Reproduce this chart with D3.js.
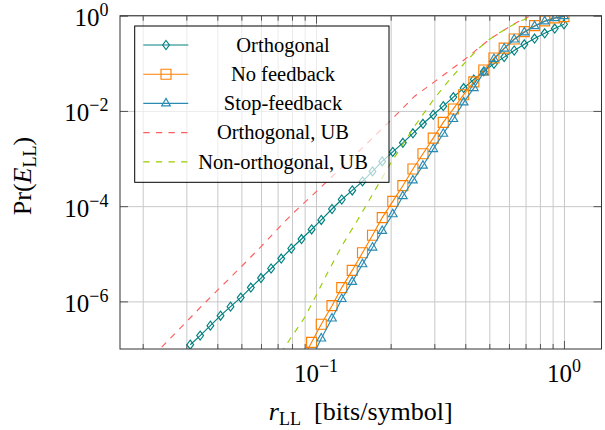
<!DOCTYPE html>
<html>
<head>
<meta charset="utf-8">
<script src="https://cdn.jsdelivr.net/npm/d3@7/dist/d3.min.js"></script>
<style>
body { margin: 0; background: #fff; }
text { font-family: "Liberation Serif", "Times New Roman", serif; fill: #000; }
</style>
</head>
<body>
<div id="chart"></div>
<script>
// rate grid of the simulated curves [bits/symbol]
var rates = [0.0311, 0.0341, 0.0375, 0.0412, 0.0452, 0.0497, 0.0546, 0.0600, 0.0659, 0.0724,
	0.0795, 0.0874, 0.0960, 0.105, 0.116, 0.127, 0.140, 0.154, 0.169, 0.185,
	0.204, 0.224, 0.246, 0.270, 0.297, 0.326, 0.358, 0.394, 0.433, 0.475,
	0.522, 0.574, 0.630, 0.692, 0.761, 0.836, 0.918, 1.0];

var orthogonal = [1.23e-7, 1.91e-7, 3.09e-7, 5.01e-7, 7.76e-7, 1.20e-6, 1.95e-6, 3.09e-6, 4.90e-6, 7.94e-6,
	1.29e-5, 2.04e-5, 3.24e-5, 5.13e-5, 8.71e-5, 1.38e-4, 2.14e-4, 3.31e-4, 5.37e-4, 8.71e-4,
	1.38e-3, 2.14e-3, 3.39e-3, 5.37e-3, 8.32e-3, 1.26e-2, 1.95e-2, 3.02e-2, 4.57e-2, 6.76e-2,
	9.77e-2, 0.135, 0.186, 0.251, 0.331, 0.427, 0.537, 0.661];

var noFeedback = [null, null, null, null, null, null, null, null, null, null,
	null, 5.62e-8, 1.38e-7, 3.31e-7, 8.13e-7, 1.95e-6, 4.47e-6, 1.05e-5, 2.45e-5, 5.75e-5,
	1.26e-4, 2.69e-4, 6.03e-4, 1.26e-3, 2.69e-3, 5.75e-3, 1.10e-2, 2.19e-2, 4.07e-2, 7.24e-2,
	0.129, 0.209, 0.324, 0.462, 0.617, 0.776, 0.902, 0.955];

var stopFeedback = [null, null, null, null, null, null, null, null, null, null,
	null, null, 6.31e-8, 1.66e-7, 4.37e-7, 1.12e-6, 2.57e-6, 6.03e-6, 1.35e-5, 3.02e-5,
	6.76e-5, 1.62e-4, 3.47e-4, 7.08e-4, 1.58e-3, 3.31e-3, 6.76e-3, 1.51e-2, 3.02e-2, 6.46e-2,
	0.123, 0.204, 0.316, 0.447, 0.603, 0.759, 0.891, 0.977];

// upper bounds, computed on their own rate grids
var orthUBRates = [0.022, 0.025, 0.03, 0.035, 0.04, 0.05, 0.06, 0.07, 0.08, 0.1, 0.12, 0.15,
	0.2, 0.25, 0.3, 0.35, 0.4, 0.45, 0.5, 0.55, 0.6, 0.65, 0.7, 0.72];
var orthUB = [7.08e-8, 1.41e-7, 3.72e-7, 8.51e-7, 1.70e-6, 5.37e-6, 1.41e-5, 3.31e-5, 6.76e-5, 2.00e-4, 4.90e-4, 1.48e-3,
	6.31e-3, 2.04e-2, 4.07e-2, 7.41e-2, 0.123, 0.204, 0.316, 0.437, 0.575, 0.741, 0.891, 0.955];

var nonOrthUBRates = [0.072, 0.075, 0.08, 0.09, 0.1, 0.11, 0.12, 0.13, 0.15, 0.17, 0.2,
	0.25, 0.3, 0.35, 0.4, 0.45, 0.5, 0.55, 0.6, 0.65, 0.7, 0.75];
var nonOrthUB = [8.13e-8, 1.12e-7, 1.86e-7, 4.57e-7, 1.32e-6, 3.55e-6, 8.32e-6, 1.78e-5, 6.03e-5, 1.86e-4, 7.94e-4,
	4.79e-3, 1.82e-2, 4.90e-2, 0.105, 0.200, 0.316, 0.437, 0.575, 0.724, 0.851, 0.977];

var legendLabels = ["Orthogonal", "No feedback", "Stop-feedback", "Orthogonal, UB", "Non-orthogonal, UB"];

var xMajor = [0.1, 1];
var xMinor = [0.02, 0.03, 0.04, 0.05, 0.06, 0.07, 0.08, 0.09, 0.2, 0.3, 0.4, 0.5, 0.6, 0.7, 0.8, 0.9];
var xTickExp = ["\u22121", "0"];
var yMajor = [1e-6, 1e-4, 1e-2, 1];
var yTickExp = ["\u22126", "\u22124", "\u22122", "0"];

// plot box
var W = 605, H = 430;
var boxL = 120, boxR = 601.5, boxT = 15.7, boxB = 349;

var svg = d3.select("#chart").append("svg")
	.attr("width", W)
	.attr("height", H);

var x = d3.scaleLog().domain([0.0162, 1.417]).range([boxL, boxR]);
var y = d3.scaleLog().domain([1e-7, 1]).range([boxB, boxT]);

function cleanAxis(g, color) {
	g.select(".domain").remove();
	g.selectAll("text").remove();
	g.selectAll("line").attr("stroke", color);
}

// grid
svg.append("g")
	.attr("transform", "translate(0," + boxB + ")")
	.call(d3.axisBottom(x).tickValues(xMinor.concat(xMajor)).tickSize(-(boxB - boxT)).tickFormat(""))
	.call(cleanAxis, "#c8c8c8");
svg.append("g")
	.attr("transform", "translate(" + boxL + ",0)")
	.call(d3.axisLeft(y).tickValues(yMajor).tickSize(-(boxR - boxL)).tickFormat(""))
	.call(cleanAxis, "#c8c8c8");

// ticks on all four sides, pointing inside
svg.append("g").attr("transform", "translate(0," + boxB + ")")
	.call(d3.axisBottom(x).tickValues(xMinor).tickSize(-5).tickFormat("")).call(cleanAxis, "#555");
svg.append("g").attr("transform", "translate(0," + boxB + ")")
	.call(d3.axisBottom(x).tickValues(xMajor).tickSize(-8).tickFormat("")).call(cleanAxis, "#555");
svg.append("g").attr("transform", "translate(0," + boxT + ")")
	.call(d3.axisTop(x).tickValues(xMinor).tickSize(-5).tickFormat("")).call(cleanAxis, "#555");
svg.append("g").attr("transform", "translate(0," + boxT + ")")
	.call(d3.axisTop(x).tickValues(xMajor).tickSize(-8).tickFormat("")).call(cleanAxis, "#555");
svg.append("g").attr("transform", "translate(" + boxL + ",0)")
	.call(d3.axisLeft(y).tickValues(yMajor).tickSize(-8).tickFormat("")).call(cleanAxis, "#555");
svg.append("g").attr("transform", "translate(" + boxR + ",0)")
	.call(d3.axisRight(y).tickValues(yMajor).tickSize(-8).tickFormat("")).call(cleanAxis, "#555");

// tick labels 10^k
var xl = svg.append("g").selectAll("text")
	.data(xMajor)
	.enter()
	.append("text")
	.attr("x", function(d) { return x(d); })
	.attr("y", 381.5)
	.attr("text-anchor", "middle")
	.style("font-size", "25px");
xl.append("tspan").text("10");
xl.append("tspan").attr("dy", -10).style("font-size", "18px").text(function(d, i) { return xTickExp[i]; });

var yl = svg.append("g").selectAll("text")
	.data(yMajor)
	.enter()
	.append("text")
	.attr("x", 108.5)
	.attr("y", function(d) { return y(d) + 10.5; })
	.attr("text-anchor", "end")
	.style("font-size", "25px");
yl.append("tspan").text("10");
yl.append("tspan").attr("dy", -10).style("font-size", "18px").text(function(d, i) { return yTickExp[i]; });

// axis labels
var xlab = svg.append("text")
	.attr("x", (boxL + boxR) / 2)
	.attr("y", 420)
	.attr("text-anchor", "middle")
	.style("font-size", "26px");
xlab.append("tspan").style("font-style", "italic").text("r");
xlab.append("tspan").attr("dy", 5).style("font-size", "18px").text("LL");
xlab.append("tspan").attr("dy", -5).text("\u2002[bits/symbol]");

var ylab = svg.append("text")
	.attr("transform", "translate(31," + 176 + ") rotate(-90)")
	.attr("text-anchor", "middle")
	.style("font-size", "26px");
ylab.append("tspan").text("Pr(");
ylab.append("tspan").style("font-style", "italic").text("E");
ylab.append("tspan").attr("dy", 5).style("font-size", "18px").text("LL");
ylab.append("tspan").attr("dy", -5).text(")");

// curves
svg.append("clipPath").attr("id", "clip")
	.append("rect")
	.attr("x", boxL).attr("y", boxT)
	.attr("width", boxR - boxL).attr("height", boxB - boxT);

var marks = {
	diamond: "M0,-4.5L3.4,0L0,4.5L-3.4,0Z",
	square: "M-5,-5L5,-5L5,5L-5,5Z",
	triangle: "M0,-5L4.33,2.5L-4.33,2.5Z"
};

var series = [
	{ r: rates, p: orthogonal, color: "#008080", mark: "diamond", dash: null },
	{ r: rates, p: noFeedback, color: "#ff8000", mark: "square", dash: null },
	{ r: rates, p: stopFeedback, color: "#2a8bb2", mark: "triangle", dash: null },
	{ r: orthUBRates, p: orthUB, color: "#ff5e5e", mark: null, dash: "6.3,6.3" },
	{ r: nonOrthUBRates, p: nonOrthUB, color: "#99cc00", mark: null, dash: "6.3,6.3" }
];

var line = d3.line()
	.defined(function(d) { return d[1] != null; })
	.x(function(d) { return x(d[0]); })
	.y(function(d) { return y(d[1]); });

var plot = svg.append("g").attr("clip-path", "url(#clip)");

series.forEach(function(s) {
	var pts = s.r.map(function(r, i) { return [r, s.p[i]]; });
	plot.append("path")
		.datum(pts)
		.attr("d", line)
		.attr("fill", "none")
		.attr("stroke", s.color)
		.attr("stroke-width", 1.15)
		.attr("stroke-dasharray", s.dash);
	if (s.mark) {
		plot.selectAll(null)
			.data(pts.filter(function(d) { return d[1] != null; }))
			.enter()
			.append("path")
			.attr("d", marks[s.mark])
			.attr("transform", function(d) { return "translate(" + x(d[0]) + "," + y(d[1]) + ")"; })
			.attr("fill", "none")
			.attr("stroke", s.color)
			.attr("stroke-width", 1.15);
	}
});

// frame
svg.append("rect")
	.attr("x", boxL).attr("y", boxT)
	.attr("width", boxR - boxL).attr("height", boxB - boxT)
	.attr("fill", "none")
	.attr("stroke", "#333")
	.attr("stroke-width", 1);

// legend
var lx = 134.7, ly = 26, lw = 254.3, lh = 156.3;
var legend = svg.append("g");
legend.append("rect")
	.attr("x", lx).attr("y", ly)
	.attr("width", lw).attr("height", lh)
	.attr("fill", "#fff")
	.attr("fill-opacity", 0.65)
	.attr("stroke", "#000")
	.attr("stroke-width", 1);

var rows = legend.selectAll("g.row")
	.data(series)
	.enter()
	.append("g")
	.attr("class", "row")
	.attr("transform", function(d, i) { return "translate(0," + (45 + i * 29.2) + ")"; });
rows.append("line")
	.attr("x1", 143.3).attr("x2", 188.3)
	.attr("stroke", function(d) { return d.color; })
	.attr("stroke-width", 1.15)
	.attr("stroke-dasharray", function(d) { return d.dash; });
rows.filter(function(d) { return d.mark; })
	.append("path")
	.attr("d", function(d) { return marks[d.mark]; })
	.attr("transform", "translate(166,0)")
	.attr("fill", "none")
	.attr("stroke", function(d) { return d.color; })
	.attr("stroke-width", 1.15);
rows.append("text")
	.attr("x", 283)
	.attr("dy", "0.33em")
	.attr("text-anchor", "middle")
	.style("font-size", "20.5px")
	.text(function(d, i) { return legendLabels[i]; });
</script>
</body>
</html>
